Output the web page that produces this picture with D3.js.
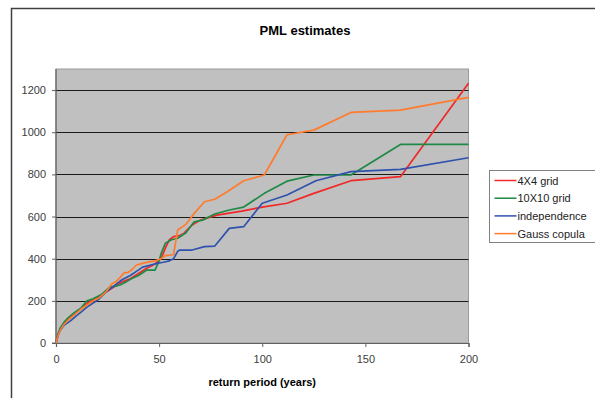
<!DOCTYPE html>
<html lang="en">
<head>
  <meta charset="UTF-8" />
  <title>PML estimates</title>
  <script src="https://d3js.org/d3.v7.min.js"></script>
  <style>
    body { margin: 0; background: #fff; }
    svg { display: block; font-family: Arial, "Liberation Sans", sans-serif; }
    .tick-label { font-size: 11px; fill: #404040; }
    .legend text { font-size: 11px; fill: #222; }
    .series { fill: none; stroke-width: 1.7px; stroke-linejoin: round; }
  </style>
</head>
<body>
  <svg id="chart"></svg>
  <script>
    // return period (years) / PML per series
    const gridPeriods4 = [0, 1, 2, 4, 6, 8, 10, 13, 16, 20, 24, 28, 32, 36, 40, 44, 48, 51, 53, 55, 57, 60, 62, 66, 70, 78, 90, 100, 112, 125, 143, 167, 200];
    const gridValues4  = [0, 40, 65, 95, 115, 130, 145, 170, 195, 215, 240, 265, 290, 305, 330, 355, 375, 400, 450, 490, 505, 510, 520, 560, 583, 607, 626, 645, 663, 710, 770, 789, 1232];

    const gridPeriods10 = [0, 1, 2, 4, 6, 9, 12, 15, 18, 22, 26, 29, 31, 34, 37, 40, 44, 48, 50, 51, 53, 56, 59, 63, 67, 71, 77, 84, 91, 101, 112, 125, 143, 167, 200];
    const gridValues10  = [0, 45, 70, 100, 120, 145, 165, 200, 210, 230, 265, 270, 275, 290, 307, 320, 346, 346, 390, 425, 473, 490, 497, 523, 575, 583, 612, 631, 645, 710, 768, 797, 797, 942, 942];

    const indepPeriods = [0, 1, 2, 4, 7, 10, 12, 15, 18, 21, 24, 28, 32, 36, 39, 42, 46, 49, 52, 55, 57, 59, 60, 66, 72, 77, 84, 91, 100, 112, 126, 143, 167, 200];
    const indepValues  = [0, 35, 60, 85, 105, 130, 145, 170, 190, 210, 240, 270, 300, 320, 340, 360, 370, 378, 383, 390, 400, 435, 441, 441, 457, 460, 544, 552, 663, 702, 770, 813, 824, 879];

    const gaussPeriods = [0, 1, 2, 4, 6, 9, 12, 15, 18, 21, 24, 27, 29, 31, 33, 35, 37, 39, 42, 45, 48, 51, 53, 55, 57, 59, 63, 67, 72, 77, 83, 91, 101, 112, 125, 143, 167, 200];
    const gaussValues  = [0, 35, 60, 90, 110, 135, 160, 180, 200, 215, 240, 280, 290, 310, 333, 335, 350, 370, 378, 385, 390, 400, 415, 417, 420, 536, 563, 615, 670, 682, 718, 770, 797, 988, 1010, 1094, 1105, 1165];

    const seriesNames = ["4X4 grid", "10X10 grid", "independence", "Gauss copula"];
    const seriesColors = ["#f02828", "#1f8a45", "#2f52ad", "#ff7b2e"];
    const xTicks = [0, 50, 100, 150, 200];
    const yTicks = [0, 200, 400, 600, 800, 1000, 1200];

    const series = [
      [gridPeriods4, gridValues4],
      [gridPeriods10, gridValues10],
      [indepPeriods, indepValues],
      [gaussPeriods, gaussValues]
    ].map(([p, v], i) => ({
      name: seriesNames[i],
      color: seriesColors[i],
      points: p.map((x, j) => ({ x: x, y: v[j] }))
    }));

    const W = 595, H = 398;
    const plot = { left: 56, right: 468.5, top: 69, bottom: 343 };

    const svg = d3.select("#chart").attr("width", W).attr("height", H);

    // chart frame
    svg.append("rect")
      .attr("x", 11.5).attr("y", 8.5)
      .attr("width", 620).attr("height", 420)
      .attr("fill", "#fff")
      .attr("stroke", "#404040").attr("stroke-width", 1.5);

    const x = d3.scaleLinear().domain([0, 200]).range([plot.left, plot.right]);
    const y = d3.scaleLinear().domain([0, 1300]).range([plot.bottom, plot.top]);

    svg.append("rect")
      .attr("x", plot.left).attr("y", plot.top)
      .attr("width", plot.right - plot.left).attr("height", plot.bottom - plot.top)
      .attr("fill", "#c0c0c0")
      .attr("stroke", "#9a9a9a").attr("stroke-width", 1);

    // gridlines
    svg.append("g")
      .selectAll("line")
      .data(yTicks.filter(d => d > 0))
      .join("line")
      .attr("x1", plot.left).attr("x2", plot.right)
      .attr("y1", d => Math.round(y(d)) + 0.5).attr("y2", d => Math.round(y(d)) + 0.5)
      .attr("stroke", "#1a1a1a").attr("stroke-width", 1);

    // axes
    const xAxis = svg.append("g")
      .attr("transform", `translate(0,${plot.bottom})`)
      .call(d3.axisBottom(x).tickValues(xTicks).tickFormat(d3.format("d")).tickSize(4).tickPadding(8));
    const yAxis = svg.append("g")
      .attr("transform", `translate(${plot.left},0)`)
      .call(d3.axisLeft(y).tickValues(yTicks).tickFormat(d3.format("d")).tickSize(4).tickPadding(6));

    [xAxis, yAxis].forEach(g => {
      g.select(".domain").attr("stroke", "#606060").attr("stroke-width", 1.2);
      g.selectAll(".tick line").attr("stroke", "#606060");
      g.selectAll(".tick text")
        .attr("class", "tick-label")
        .attr("font-family", "Arial, 'Liberation Sans', sans-serif")
        .attr("font-size", 11);
    });
    yAxis.select(".domain").attr("d", `M-4,${plot.bottom}H0V${plot.top}`);

    const line = d3.line().x(d => x(d.x)).y(d => y(d.y));

    svg.append("g")
      .selectAll("path")
      .data(series)
      .join("path")
      .attr("class", "series")
      .attr("stroke", d => d.color)
      .attr("d", d => line(d.points));

    // titles
    svg.append("text")
      .attr("x", 305).attr("y", 35)
      .attr("text-anchor", "middle")
      .attr("font-size", 13).attr("font-weight", "bold")
      .text("PML estimates");

    svg.append("text")
      .attr("x", (plot.left + plot.right) / 2).attr("y", 386)
      .attr("text-anchor", "middle")
      .attr("font-size", 11).attr("font-weight", "bold")
      .text("return period (years)");

    // legend
    const legend = svg.append("g").attr("class", "legend")
      .attr("transform", "translate(489.5,170.5)");
    legend.append("rect")
      .attr("width", 106).attr("height", 72)
      .attr("fill", "#fff")
      .attr("stroke", "#808080").attr("stroke-width", 1);

    const rows = legend.selectAll("g.row")
      .data(series)
      .join("g")
      .attr("class", "row")
      .attr("transform", (d, i) => `translate(0,${10 + i * 17.7})`);
    rows.append("line")
      .attr("x1", 5).attr("x2", 27)
      .attr("stroke", d => d.color).attr("stroke-width", 1.5);
    rows.append("text")
      .attr("x", 28).attr("y", 4)
      .text(d => d.name);
  </script>
</body>
</html>
